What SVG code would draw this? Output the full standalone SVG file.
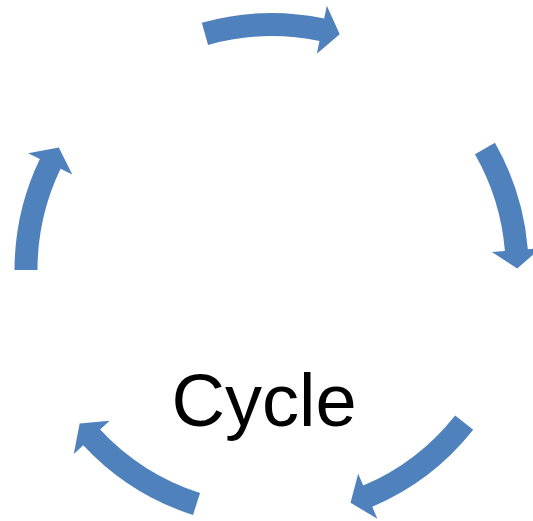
<svg xmlns="http://www.w3.org/2000/svg" width="533" height="521" viewBox="0 0 533 521">
<style>
.arrow{fill:#4F81BD;stroke:none}
.label{font-family:"Liberation Sans",Arial,sans-serif;font-size:74px;fill:#000}
</style>
<rect width="533" height="521" fill="#FFFFFF"/>
<g id="connectors">
<path id="arrow-top" class="arrow" d="M201.82,22.74 A257.1,257.1 0 0 1 324.18,18.52 L326.84,5.80 L339.71,34.23 L316.81,53.77 L319.47,41.04 A234.1,234.1 0 0 0 208.06,44.88 Z"/>
<path id="arrow-right" class="arrow" d="M494.92,142.81 A257.1,257.1 0 0 1 527.84,249.13 L540.79,248.07 L517.2,268.49 L491.96,252.08 L504.91,251.02 A234.1,234.1 0 0 0 474.94,154.20 Z"/>
<path id="arrow-bottom-right" class="arrow" d="M473.19,429.73 A257.1,257.1 0 0 1 372.26,506.78 L377.34,518.75 L350.53,502.76 L358.16,473.66 L363.25,485.62 A234.1,234.1 0 0 0 455.16,415.46 Z"/>
<path id="arrow-bottom-left" class="arrow" d="M193.0,514.99 A257.1,257.1 0 0 1 83.27,445.21 L73.75,454.06 L79.66,423.43 L109.64,420.7 L100.12,429.55 A234.1,234.1 0 0 0 200.04,493.09 Z"/>
<path id="arrow-left" class="arrow" d="M14.5,269.98 A257.1,257.1 0 0 1 39.85,158.9 L28.13,153.27 L58.79,147.6 L72.3,174.49 L60.58,168.86 A234.1,234.1 0 0 0 37.5,270.0 Z"/>
</g>
<g id="node-cycle">
<text class="label" x="171.5" y="426">Cycle</text>
</g>
</svg>
